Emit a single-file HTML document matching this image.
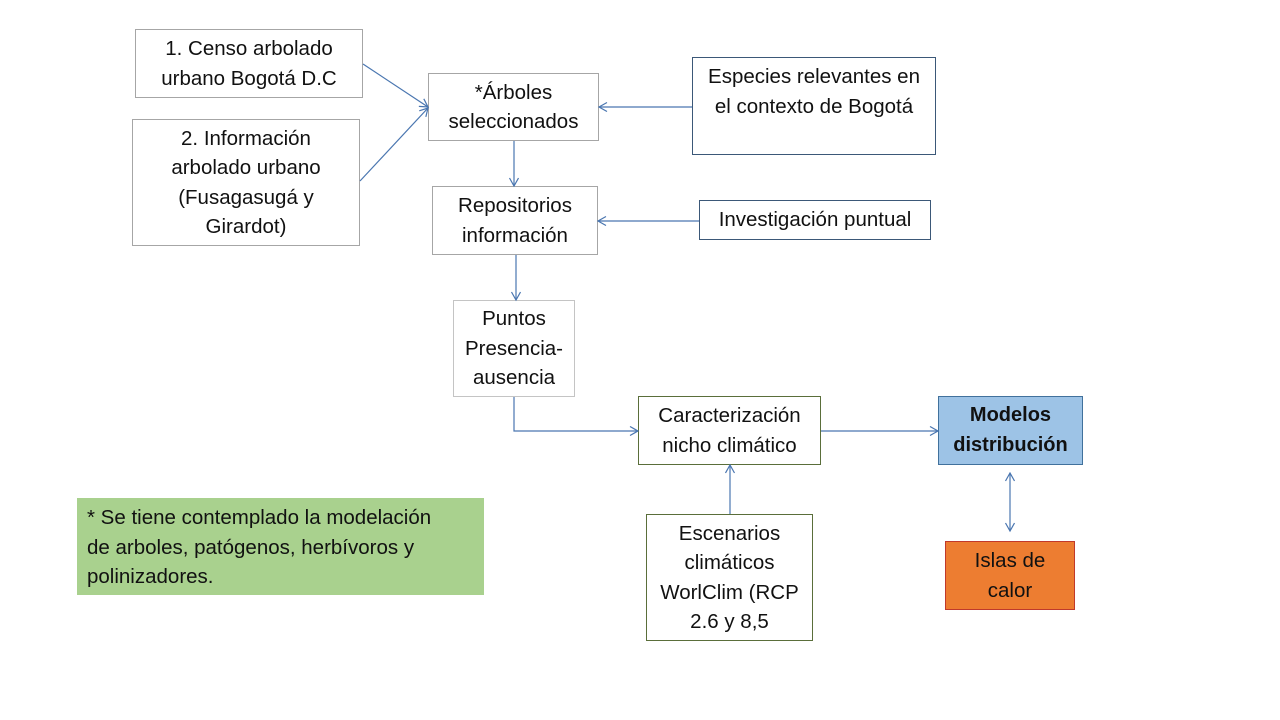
<!DOCTYPE html>
<html>
<head>
<meta charset="utf-8">
<style>
  html,body{margin:0;padding:0;background:#fff;}
  body{width:1280px;height:720px;position:relative;overflow:hidden;
       font-family:"Liberation Sans",Arial,sans-serif;color:#111;}
  .b{position:absolute;box-sizing:border-box;display:flex;flex-direction:column;
     align-items:center;justify-content:center;text-align:center;
     font-size:20.5px;line-height:29.5px;white-space:nowrap;background:#fff;}
  .g{border:1px solid #a6a6a6;}
  .lg{border:1px solid #c4c4c4;}
  .bl{border:1px solid #3b5878;}
  .gr{border:1px solid #5a6e3a;}
  svg{position:absolute;left:0;top:0;}
</style>
</head>
<body>

<div class="b g" style="left:135px;top:29px;width:228px;height:69px;">1. Censo arbolado<br>urbano Bogotá D.C</div>
<div class="b g" style="left:132px;top:119px;width:228px;height:127px;">2. Información<br>arbolado urbano<br>(Fusagasugá y<br>Girardot)</div>
<div class="b g" style="left:428px;top:73px;width:171px;height:68px;">*Árboles<br>seleccionados</div>
<div class="b bl" style="left:692px;top:57px;width:244px;height:98px;justify-content:flex-start;padding-top:4px;">Especies relevantes en<br>el contexto de Bogotá</div>
<div class="b g" style="left:432px;top:186px;width:166px;height:69px;">Repositorios<br>información</div>
<div class="b bl" style="left:699px;top:200px;width:232px;height:40px;">Investigación puntual</div>
<div class="b lg" style="left:453px;top:300px;width:122px;height:97px;">Puntos<br>Presencia-<br>ausencia</div>
<div class="b gr" style="left:638px;top:396px;width:183px;height:69px;">Caracterización<br>nicho climático</div>
<div class="b" style="left:938px;top:396px;width:145px;height:69px;background:#9dc3e6;border:1px solid #41719c;font-weight:bold;font-size:20px;">Modelos<br>distribución</div>
<div class="b" style="left:945px;top:541px;width:130px;height:69px;background:#ed7d31;border:1px solid #c0392b;">Islas de<br>calor</div>
<div class="b gr" style="left:646px;top:514px;width:167px;height:127px;">Escenarios<br>climáticos<br>WorlClim (RCP<br>2.6 y 8,5</div>
<div class="b" style="left:77px;top:498px;width:407px;height:97px;background:#a9d18e;align-items:flex-start;text-align:left;padding-left:10px;padding-top:2px;font-size:20.5px;">* Se tiene contemplado la modelación<br>de arboles, patógenos, herbívoros y<br>polinizadores.</div>

<svg width="1280" height="720" viewBox="0 0 1280 720">
  <defs>
    <marker id="a" markerUnits="userSpaceOnUse" markerWidth="12" markerHeight="12" refX="9" refY="5" orient="auto">
      <path d="M1,0.5 L9,5 L1,9.5" fill="none" stroke="#4a76b0" stroke-width="1.2"/>
    </marker>
    <marker id="s" markerUnits="userSpaceOnUse" markerWidth="12" markerHeight="12" refX="1" refY="5" orient="auto">
      <path d="M9,0.5 L1,5 L9,9.5" fill="none" stroke="#4a76b0" stroke-width="1.2"/>
    </marker>
  </defs>
  <g stroke="#4a76b0" stroke-width="1.2" fill="none">
    <line x1="363" y1="64" x2="428" y2="107" marker-end="url(#a)"/>
    <line x1="360" y1="181" x2="428" y2="108" marker-end="url(#a)"/>
    <line x1="692" y1="107" x2="599" y2="107" marker-end="url(#a)"/>
    <line x1="514" y1="141" x2="514" y2="186" marker-end="url(#a)"/>
    <line x1="699" y1="221" x2="598" y2="221" marker-end="url(#a)"/>
    <line x1="516" y1="255" x2="516" y2="300" marker-end="url(#a)"/>
    <polyline points="514,397 514,431 638,431" marker-end="url(#a)"/>
    <line x1="730" y1="514" x2="730" y2="465" marker-end="url(#a)"/>
    <line x1="821" y1="431" x2="938" y2="431" marker-end="url(#a)"/>
    <line x1="1010" y1="473" x2="1010" y2="531" marker-start="url(#s)" marker-end="url(#a)"/>
  </g>
</svg>

</body>
</html>
